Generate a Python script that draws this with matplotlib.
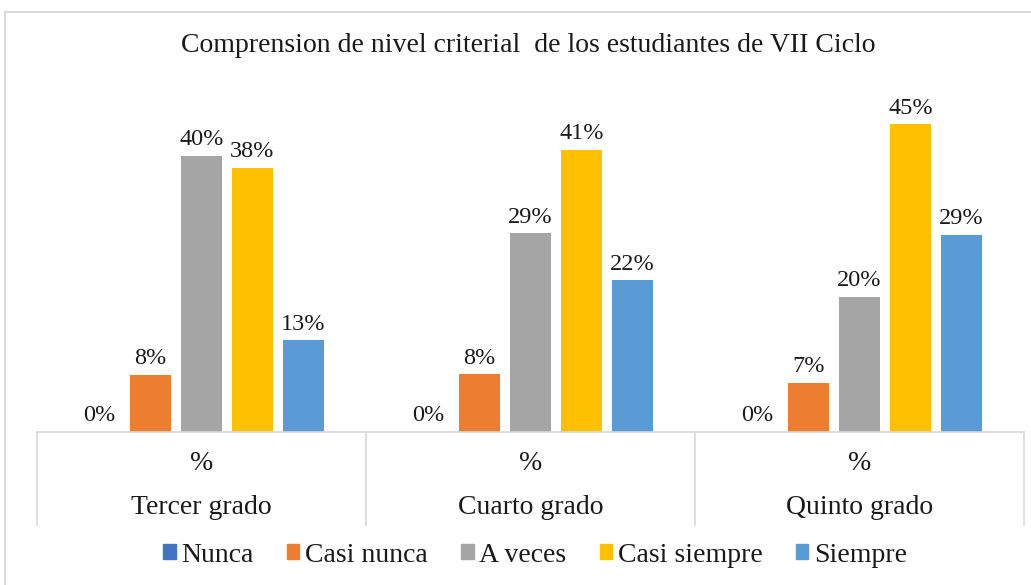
import matplotlib.pyplot as plt
from matplotlib.lines import Line2D
import numpy as np

plt.rcParams['font.family'] = ['Liberation Serif', 'DejaVu Serif']

grados = ["Tercer grado", "Cuarto grado", "Quinto grado"]
series = ["Nunca", "Casi nunca", "A veces", "Casi siempre", "Siempre"]
colores = ["#4472c4", "#ed7d31", "#a5a5a5", "#ffc000", "#5b9bd5"]

# porcentajes
nunca = [0.0, 0.0, 0.0]
casi_nunca = [8.3, 8.4, 7.1]
a_veces = [40.0, 28.8, 19.6]
casi_siempre = [38.3, 40.9, 44.6]
siempre = [13.3, 22.0, 28.6]
valores = [nunca, casi_nunca, a_veces, casi_siempre, siempre]

fig = plt.figure(figsize=(10.31, 5.85), dpi=100)
W, H = 1031, 585
ax = fig.add_axes([37 / W, (H - 432) / H, (1024 - 37) / W, (432 - 87) / H])

x = np.arange(len(grados))
ancho = 0.122
paso = 0.155
for i, (nombre, vals) in enumerate(zip(series, valores)):
    pos = x + (i - 2) * paso
    ax.bar(pos, vals, ancho, color=colores[i], label=nombre)
    for p, v in zip(pos, vals):
        ax.text(p, v + 0.8, f"{round(v):.0f}%", ha="center", va="bottom",
                fontsize=17.5, color="#1a1a1a")

ax.set_xlim(-0.5, 2.5)
ax.set_ylim(0, 50)
ax.set_xticks([])
ax.set_yticks([])
for s in ax.spines.values():
    s.set_visible(False)

# tabla de categorias debajo del eje
gris = "#d9d9d9"
y_fin = -(525 - 432) / (432 - 87)
ax.add_line(Line2D([0, 1], [0, 0], transform=ax.transAxes, color=gris,
                   lw=1.2, clip_on=False))
for k in range(4):
    xd = k / 3
    ax.add_line(Line2D([xd, xd], [0, y_fin], transform=ax.transAxes,
                       color=gris, lw=1.2, clip_on=False))
for k, g in enumerate(grados):
    ax.text((k + 0.5) / 3, -(463 - 432) / (432 - 87), "%", ha="center",
            va="center", fontsize=20, transform=ax.transAxes, color="#1a1a1a")
    ax.text((k + 0.5) / 3, -(508 - 432) / (432 - 87), g, ha="center",
            va="center", fontsize=20, transform=ax.transAxes, color="#1a1a1a")

fig.text(528 / W, 1 - 45 / H, "Comprension de nivel criterial  de los estudiantes de VII Ciclo",
         ha="center", va="center", fontsize=20, color="#1a1a1a")

handles = [plt.Rectangle((0, 0), 1, 1, color=c) for c in colores]
fig.legend(handles, series, loc="center", bbox_to_anchor=(535 / W, 1 - 555 / H),
           ncol=5, frameon=False, fontsize=20, handlelength=0.45, handleheight=0.45,
           handletextpad=0.2, columnspacing=1.2, labelcolor="#1a1a1a")

# borde del area del grafico
fig.add_artist(Line2D([5 / W, 5 / W], [0, 1 - 12 / H], color=gris, lw=1.5))
fig.add_artist(Line2D([5 / W, 1], [1 - 12 / H, 1 - 12 / H], color=gris, lw=1.5))

fig.savefig("out.png", dpi=100)
